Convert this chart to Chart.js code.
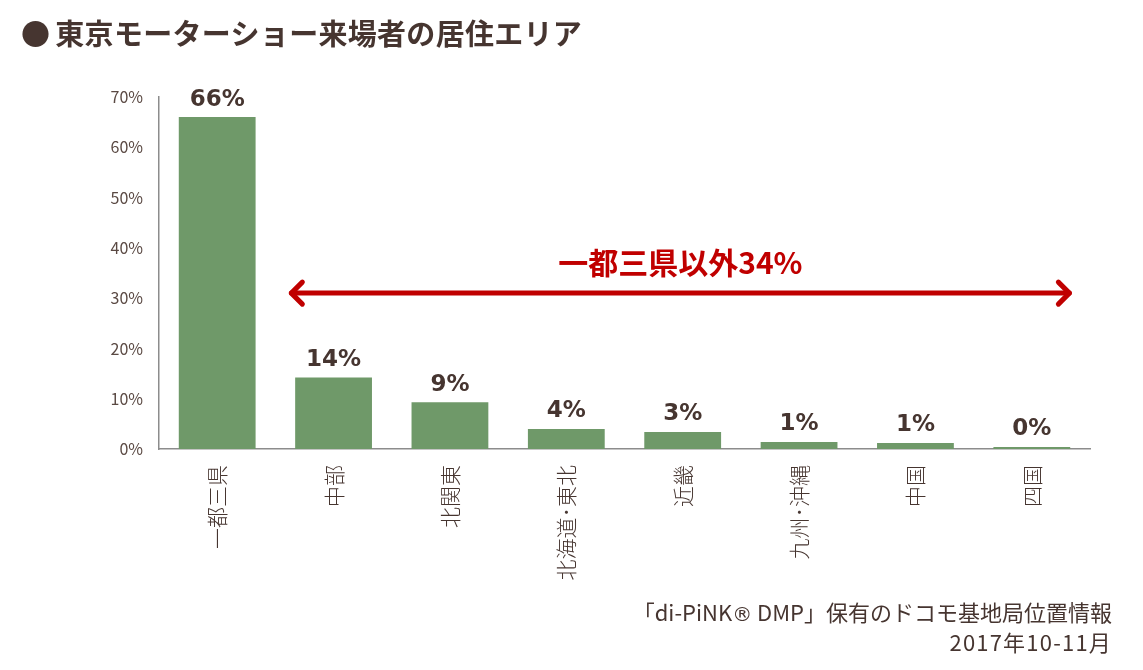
<!DOCTYPE html>
<html lang="ja">
<head>
<meta charset="utf-8">
<script src="https://cdn.jsdelivr.net/npm/chart.js@4/dist/chart.umd.min.js"></script>
<style>
  html, body { margin: 0; padding: 0; background: #fff; }
  #wrap { position: relative; width: 1143px; height: 670px; }
  #title {
    position: absolute; left: 21px; top: 11px; margin: 0;
    font: bold 29px "Noto Sans CJK JP", sans-serif; color: #463530;
    letter-spacing: 0.3px; white-space: nowrap;
  }
  #title .dot { margin-right: 5px; }
  #source {
    position: absolute; right: 31px; top: 598px; text-align: right;
    font: 22px "Noto Sans CJK JP", sans-serif; color: #463530; line-height: 27px;
    white-space: nowrap;
  }
  #source .reg { font-family: "DejaVu Sans", sans-serif; font-size: 20px; }
  #source .period { letter-spacing: 1.2px; }
</style>
</head>
<body>
<div id="wrap">
  <canvas id="chart" width="1143" height="670"></canvas>
  <h1 id="title"><span class="dot">●</span>東京モーターショー来場者の居住エリア</h1>
  <div id="source">「di-PiNK<span class="reg">®</span> DMP」保有のドコモ基地局位置情報<br><span class="period">2017年10-11月</span></div>
</div>
<script>
const categories = ["一都三県", "中部", "北関東", "北海道･東北", "近畿", "九州･沖縄", "中国", "四国"];
const shares = [66.0, 14.2, 9.3, 4.0, 3.4, 1.4, 1.2, 0.4];
const valueLabels = ["66%", "14%", "9%", "4%", "3%", "1%", "1%", "0%"];
const yMax = 70;
const yStep = 10;

const arrowText = "一都三県以外34%";
const arrowLevel = 31;       // y value of the arrow line
const arrowFrom = 0.62;      // category positions (fractional index)
const arrowTo = 7.34;

const textColor = "#463530";
const barColor = "#6f9969";
const red = "#c00000";

const valueLabelPlugin = {
  id: "valueLabels",
  afterDatasetsDraw(chart) {
    const ctx = chart.ctx;
    const meta = chart.getDatasetMeta(0);
    ctx.save();
    ctx.fillStyle = textColor;
    ctx.font = "bold 23px 'DejaVu Sans', sans-serif";
    ctx.textAlign = "center";
    ctx.textBaseline = "bottom";
    meta.data.forEach((bar, i) => {
      ctx.fillText(valueLabels[i], bar.x, bar.y - 6);
    });
    ctx.restore();
  }
};

const arrowPlugin = {
  id: "arrow",
  afterDatasetsDraw(chart) {
    const ctx = chart.ctx;
    const x = chart.scales.x, y = chart.scales.y;
    const x1 = x.getPixelForValue(arrowFrom);
    const x2 = x.getPixelForValue(arrowTo);
    const yy = y.getPixelForValue(arrowLevel);
    ctx.save();
    ctx.strokeStyle = red;
    ctx.lineWidth = 5;
    ctx.lineCap = "round";
    ctx.lineJoin = "round";
    ctx.beginPath();
    ctx.moveTo(x1 + 2, yy);
    ctx.lineTo(x2 - 2, yy);
    ctx.stroke();
    ctx.beginPath();
    ctx.moveTo(x1 + 13, yy - 11);
    ctx.lineTo(x1 + 2, yy);
    ctx.lineTo(x1 + 13, yy + 11);
    ctx.moveTo(x2 - 13, yy - 11);
    ctx.lineTo(x2 - 2, yy);
    ctx.lineTo(x2 - 13, yy + 11);
    ctx.stroke();
    ctx.fillStyle = red;
    ctx.font = "bold 30px 'Noto Sans CJK JP', sans-serif";
    ctx.textAlign = "center";
    ctx.textBaseline = "middle";
    ctx.fillText(arrowText, (x1 + x2) / 2, yy - 31);
    ctx.restore();
  }
};

new Chart(document.getElementById("chart"), {
  type: "bar",
  data: {
    labels: categories,
    datasets: [{
      data: shares,
      backgroundColor: barColor,
      barPercentage: 0.66,
      categoryPercentage: 1
    }]
  },
  options: {
    responsive: false,
    animation: false,
    layout: { padding: { top: 97, right: 53, left: 0, bottom: 0 } },
    plugins: { legend: { display: false }, tooltip: { enabled: false } },
    scales: {
      x: {
        grid: { display: false, drawTicks: false },
        border: { color: "#8c8c8c", width: 1.5 },
        ticks: {
          color: textColor,
          font: { family: "'Noto Sans CJK JP', sans-serif", size: 21, weight: "300" },
          minRotation: 90, maxRotation: 90,
          padding: 16, autoSkip: false
        },
        afterFit(s) { s.height = 221; }
      },
      y: {
        min: 0, max: yMax,
        grid: { display: false, drawTicks: false },
        border: { color: "#8c8c8c", width: 1.5 },
        ticks: {
          stepSize: yStep,
          color: "#5a4943",
          font: { family: "'Noto Sans CJK JP', sans-serif", size: 16 },
          padding: 16,
          callback: v => v + "%"
        },
        afterFit(s) { s.width = 159; }
      }
    }
  },
  plugins: [valueLabelPlugin, arrowPlugin]
});
</script>
</body>
</html>
